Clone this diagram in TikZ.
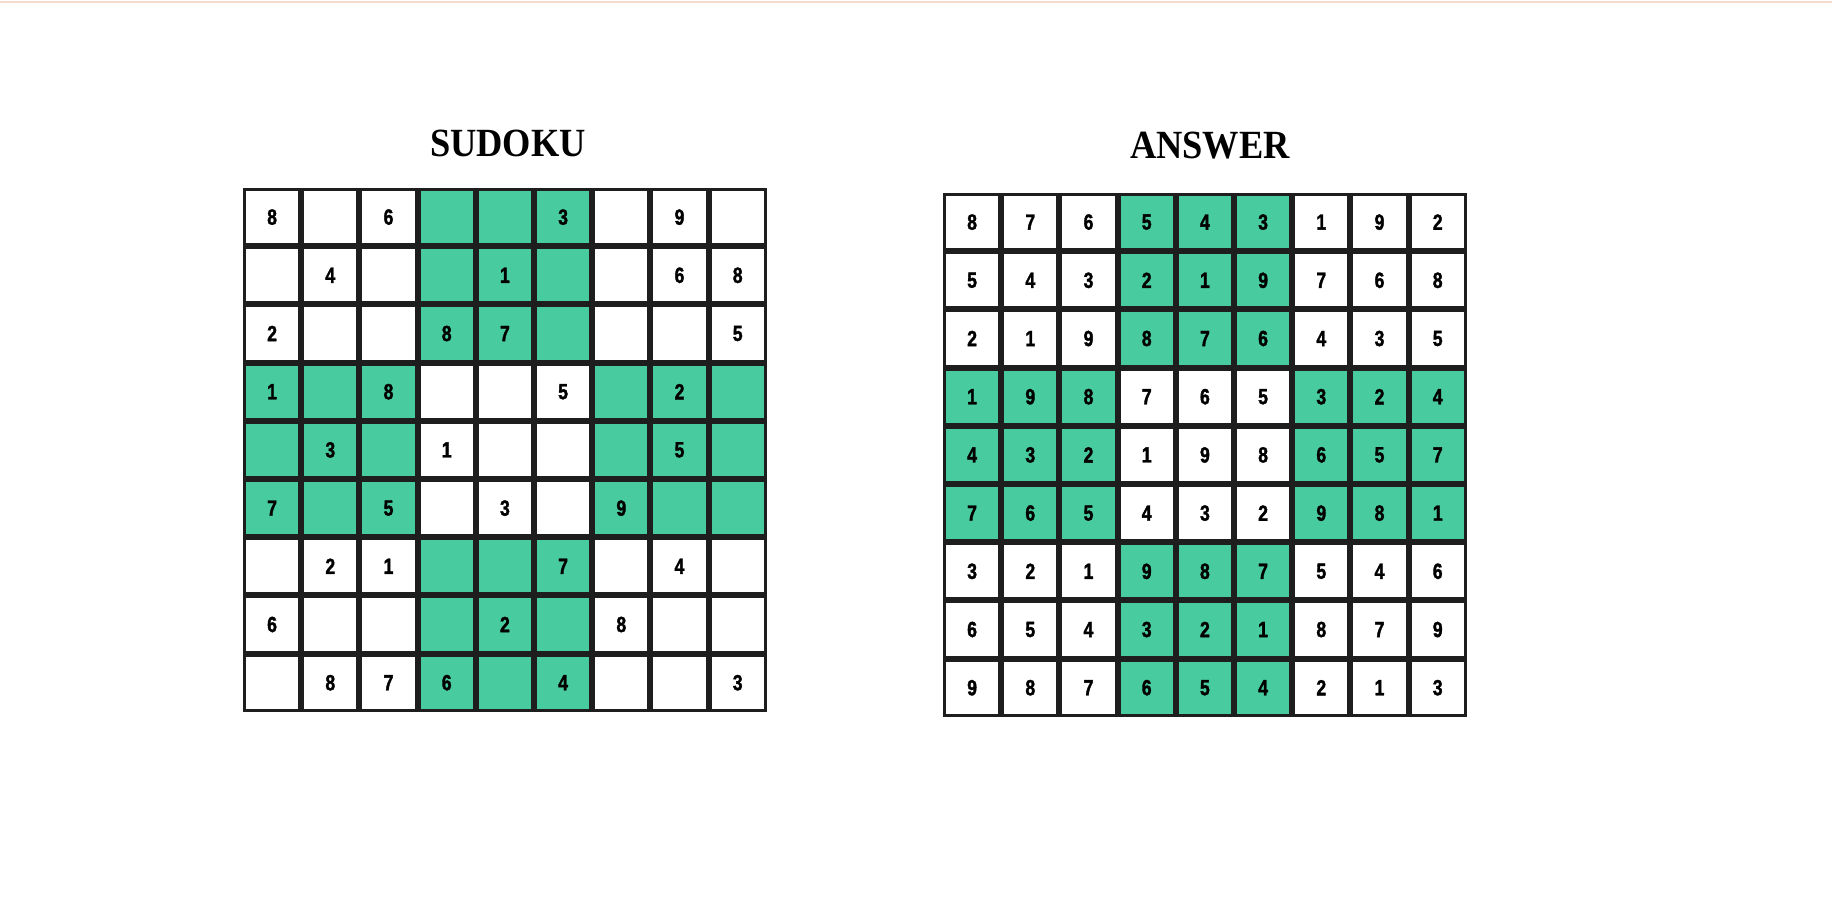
\documentclass[tikz,border=0pt]{standalone}
\usepackage{fontspec}
\setmainfont{Liberation Serif}
\newfontfamily\digitfont[FakeStretch=0.8,FakeBold=1.6]{Liberation Sans}
\newfontfamily\titlefont[FakeStretch=0.91]{Liberation Serif}
\usetikzlibrary{positioning}
\definecolor{boxgreen}{RGB}{72,203,158}
\definecolor{gridline}{RGB}{30,30,30}
\definecolor{topline}{RGB}{246,218,206}

\begin{document}
\begin{tikzpicture}[x=0.5pt,y=-0.5pt,
  every node/.style={inner sep=0pt},
  cell/.style={shape=rectangle,draw=gridline,line width=1.5pt,minimum size=27.6pt,
    font=\digitfont\bfseries\fontsize{11}{11}\selectfont},
  title/.style={font=\titlefont\bfseries\fontsize{20}{22}\selectfont,anchor=base}]
\useasboundingbox (0,0) rectangle (1832,906);
\draw[topline,line width=1pt] (0,2) -- (1832,2);

\node[title] (qtitle) at (508,156) {SUDOKU};
\node[title] (atitle) at (1210,158) {ANSWER};

% puzzle (0 = empty cell)
\foreach \row [count=\r] in {{8,0,6,0,0,3,0,9,0},{0,4,0,0,1,0,0,6,8},{2,0,0,8,7,0,0,0,5},
  {1,0,8,0,0,5,0,2,0},{0,3,0,1,0,0,0,5,0},{7,0,5,0,3,0,9,0,0},
  {0,2,1,0,0,7,0,4,0},{6,0,0,0,2,0,8,0,0},{0,8,7,6,0,4,0,0,3}}{
  \foreach \v [count=\c] in \row {
    \pgfmathtruncatemacro\g{mod(int((\r-1)/3)+int((\c-1)/3),2)}
    \ifnum\g=1 \def\cellfill{boxgreen}\else\def\cellfill{white}\fi
    \node[cell,fill=\cellfill] (q-\r-\c) at ({243+(\c-0.5)*58.2},{188+(\r-0.5)*58.2}) {\ifnum\v>0 \v\fi};
  }
}

% answer
\foreach \row [count=\r] in {{8,7,6,5,4,3,1,9,2},{5,4,3,2,1,9,7,6,8},{2,1,9,8,7,6,4,3,5},
  {1,9,8,7,6,5,3,2,4},{4,3,2,1,9,8,6,5,7},{7,6,5,4,3,2,9,8,1},
  {3,2,1,9,8,7,5,4,6},{6,5,4,3,2,1,8,7,9},{9,8,7,6,5,4,2,1,3}}{
  \foreach \v [count=\c] in \row {
    \pgfmathtruncatemacro\g{mod(int((\r-1)/3)+int((\c-1)/3),2)}
    \ifnum\g=1 \def\cellfill{boxgreen}\else\def\cellfill{white}\fi
    \node[cell,fill=\cellfill] (a-\r-\c) at ({943+(\c-0.5)*58.2},{193+(\r-0.5)*58.2}) {\v};
  }
}
\end{tikzpicture}
\end{document}
